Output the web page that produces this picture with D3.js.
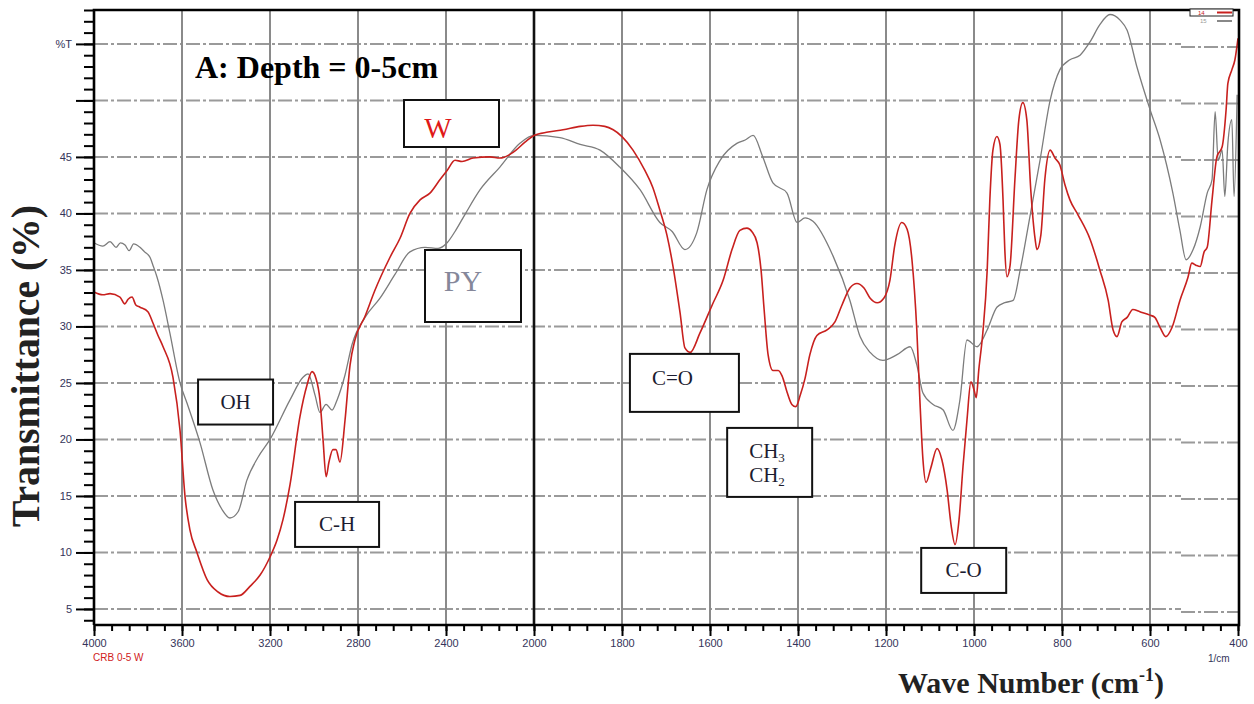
<!DOCTYPE html>
<html>
<head>
<meta charset="utf-8">
<script src="https://cdn.jsdelivr.net/npm/d3@7"></script>
<style>
  body { margin: 0; background: #fff; }
  svg { display: block; }
  .tick text { font-family: "Liberation Sans", Arial, sans-serif; font-size: 11px; fill: #34345a; }
  .axis path { stroke: #000; stroke-width: 2.5; }
  .axis line { stroke: #000; stroke-width: 2; }
  .line { fill: none; }
  .box rect { fill: #fff; stroke: #111; stroke-width: 2; }
  .box text { font-family: "Liberation Serif", "Times New Roman", serif; font-size: 21px; fill: #1c1c30; }
</style>
</head>
<body>
<div id="chart"></div>
<script>
// wave numbers of the labelled ticks (scale changes at 2000)
const xTicks = [4000, 3600, 3200, 2800, 2400, 2000, 1800, 1600, 1400, 1200, 1000, 800, 600, 400];
const yTicks = [5, 10, 15, 20, 25, 30, 35, 40, 45, 50, 55];

// PY spectrum, [wave number, %T]
const seriesPY = [
  [4000, 37.4], [3960, 37.1], [3927, 37.5], [3900, 37.0], [3880, 37.4], [3859, 37.2], [3840, 36.7],
  [3820, 37.3], [3791, 37.0], [3770, 36.6], [3745, 36.1], [3730, 35.3], [3714, 34.4], [3686, 32.3],
  [3655, 29.4], [3609, 25.0], [3577, 23.2], [3518, 19.7], [3459, 15.5], [3418, 13.8], [3382, 13.05],
  [3345, 13.6], [3305, 16.4], [3255, 18.4], [3200, 20.0], [3109, 23.5], [3050, 25.5], [3027, 25.8],
  [2995, 23.9], [2973, 22.4], [2945, 23.1], [2918, 22.6], [2895, 23.5], [2859, 25.7], [2827, 28.4],
  [2768, 30.8], [2700, 32.5], [2632, 34.6], [2564, 36.6], [2495, 37.0], [2436, 36.9], [2395, 37.4],
  [2359, 38.4], [2314, 39.9], [2245, 42.1], [2155, 44.1], [2064, 46.2], [2000, 46.9],
  [1941, 46.7], [1895, 46.1], [1850, 45.6], [1805, 44.1], [1759, 42.1], [1714, 39.2], [1686, 38.4],
  [1657, 36.8], [1630, 38.3], [1607, 42.1], [1577, 44.7], [1539, 46.2], [1520, 46.5], [1502, 46.9],
  [1480, 45.0], [1457, 42.7], [1425, 41.8], [1402, 39.2], [1384, 39.6], [1366, 39.3], [1320, 36.2],
  [1282, 32.3], [1259, 29.1], [1236, 27.7], [1207, 27.0], [1175, 27.5], [1145, 28.2], [1130, 26.6],
  [1116, 24.1], [1093, 23.1], [1070, 22.6], [1048, 20.8], [1032, 23.5], [1016, 28.8], [993, 28.2],
  [970, 29.7], [948, 31.7], [930, 32.1], [911, 32.3], [895, 35.0], [873, 39.7], [850, 44.7],
  [827, 50.0], [805, 52.7], [782, 53.6], [759, 54.0], [736, 55.2], [714, 56.7], [691, 57.6],
  [668, 57.1], [652, 56.2], [630, 53.0], [600, 49.2], [577, 46.5], [548, 41.8], [532, 38.5],
  [518, 35.9], [502, 36.8], [486, 38.8], [470, 41.8], [459, 43.0], [452, 49.0], [445, 44.7],
  [436, 45.6], [430, 41.5], [423, 46.2], [414, 48.3], [409, 41.5], [402, 50.5]
];

// W spectrum, [wave number, %T]
const seriesW = [
  [4000, 33.05], [3960, 32.8], [3927, 32.9], [3882, 32.6], [3860, 32.0], [3845, 32.4], [3827, 32.6],
  [3810, 31.9], [3791, 31.7], [3755, 31.3], [3732, 30.3], [3709, 29.2], [3686, 28.2], [3641, 25.5],
  [3609, 20.8], [3586, 14.9], [3564, 12.0], [3532, 10.0], [3486, 7.6], [3436, 6.5], [3382, 6.1],
  [3336, 6.2], [3291, 7.0], [3245, 8.0], [3200, 9.6], [3168, 11.1], [3141, 12.9], [3109, 16.0],
  [3064, 22.0], [3032, 24.8], [3009, 26.0], [2991, 25.4], [2973, 23.5], [2959, 20.0], [2945, 16.7],
  [2932, 18.0], [2914, 19.1], [2900, 19.1], [2882, 18.0], [2859, 21.7], [2836, 26.6], [2814, 28.8],
  [2768, 30.9], [2723, 33.2], [2655, 36.1], [2609, 37.8], [2564, 40.0], [2518, 41.2], [2473, 41.8],
  [2427, 43.0], [2395, 43.8], [2359, 44.7], [2327, 44.6], [2277, 44.9], [2200, 45.0], [2155, 44.9],
  [2095, 45.4], [2041, 46.3], [2000, 46.9],
  [1968, 47.2], [1934, 47.4], [1895, 47.7], [1866, 47.8], [1839, 47.7], [1820, 47.4], [1800, 46.8],
  [1775, 45.6], [1748, 43.8], [1730, 42.3], [1714, 40.3], [1698, 38.1], [1684, 35.3], [1668, 31.2],
  [1657, 28.1], [1645, 27.7], [1623, 29.4], [1595, 31.9], [1570, 34.1], [1550, 36.8], [1532, 38.5],
  [1516, 38.7], [1505, 38.4], [1493, 37.4], [1484, 35.0], [1477, 31.5], [1468, 27.5], [1457, 26.1],
  [1445, 26.1], [1436, 25.6], [1425, 24.2], [1414, 23.1], [1405, 22.9], [1395, 23.9], [1384, 25.4],
  [1373, 27.5], [1357, 29.2], [1334, 29.7], [1316, 30.4], [1300, 31.9], [1282, 33.4], [1266, 33.8],
  [1250, 33.4], [1236, 32.5], [1220, 32.1], [1205, 32.5], [1191, 34.1], [1180, 37.2], [1164, 39.2],
  [1152, 38.6], [1141, 35.9], [1130, 29.7], [1123, 23.5], [1116, 18.2], [1109, 16.2], [1098, 17.5],
  [1084, 19.2], [1073, 18.2], [1061, 15.5], [1052, 12.4], [1043, 10.7], [1034, 12.9], [1025, 17.6],
  [1016, 21.7], [1007, 25.1], [1000, 24.4], [995, 23.7], [989, 26.2], [980, 29.4], [970, 35.0],
  [964, 41.2], [957, 45.6], [948, 46.8], [941, 46.1], [934, 41.2], [930, 36.8], [925, 34.4],
  [918, 35.4], [907, 43.0], [898, 48.3], [889, 49.8], [880, 48.3], [871, 42.1], [861, 37.7],
  [857, 36.8], [848, 38.1], [839, 43.0], [827, 45.6], [816, 44.9], [805, 44.3], [793, 42.5],
  [782, 41.2], [764, 39.9], [736, 37.7], [714, 35.0], [695, 32.3], [684, 29.7], [675, 29.1],
  [664, 30.4], [652, 30.8], [639, 31.5], [623, 31.3], [600, 31.0], [589, 30.8], [577, 29.9],
  [564, 29.1], [550, 29.9], [532, 32.3], [514, 34.3], [505, 35.6], [495, 35.4], [486, 35.3],
  [477, 36.6], [470, 37.0], [459, 41.2], [448, 45.0], [436, 45.9], [427, 49.2], [423, 51.5],
  [414, 52.7], [407, 53.6], [400, 55.5]
];

// band labels: text lines, wave number / %T of the box's top-left corner
const bandLabels = [
  { lines: ["OH"], wn: 3527, t: 25.3 },
  { lines: ["C-H"], wn: 3086, t: 14.47 },
  { lines: ["C=O"], wn: 1782, t: 27.57 },
  { lines: ["CH3", "CH2"], wn: 1561, t: 21.02 },
  { lines: ["C-O"], wn: 1120, t: 10.4 }
];

class IRChart {
  constructor(args) {
    this.element = args.element;
    this.width = 1254;
    this.height = 704;
    this.plot = { left: 94, right: 1238, top: 10, bottom: 625 };
    this.draw();
  }

  draw() {
    this._svg = d3.select(this.element).append("svg")
      .attr("width", this.width)
      .attr("height", this.height);
    this.createScales();
    this.addGrid();
    this.addLine(seriesPY, "#7c7c7c", 1.3);
    this.addLine(seriesW, "#c8201e", 1.6);
    this.addBoxes();
    this.addAxes();
    this.addTexts();
  }

  createScales() {
    // FTIR style x axis: 4000-2000 and 2000-400 get the same width per tick
    this._xScale = d3.scaleLinear()
      .domain([4000, 2000, 400])
      .range([this.plot.left, 534, this.plot.right]);
    this._yScale = d3.scaleLinear()
      .domain([3.58, 58.0])
      .range([this.plot.bottom, this.plot.top]);
  }

  addGrid() {
    const g = this._svg.append("g").attr("class", "grid");
    const step = 1181; // the right strip of the grid sits a bit lower
    yTicks.forEach(v => {
      const y = this._yScale(v);
      g.append("line")
        .attr("x1", this.plot.left).attr("x2", step)
        .attr("y1", y).attr("y2", y)
        .attr("stroke", "#9a9a9a").attr("stroke-width", 2)
        .attr("stroke-dasharray", "14,3,3,3");
      g.append("line")
        .attr("x1", step).attr("x2", this.plot.right)
        .attr("y1", y + 3).attr("y2", y + 3)
        .attr("stroke", "#9a9a9a").attr("stroke-width", 2)
        .attr("stroke-dasharray", "14,3,3,3");
    });
    xTicks.filter(d => d !== 4000 && d !== 400).forEach(d => {
      g.append("line")
        .attr("x1", this._xScale(d)).attr("x2", this._xScale(d))
        .attr("y1", this.plot.top).attr("y2", this.plot.bottom)
        .attr("stroke", d === 2000 ? "#111" : "#8a8a8a")
        .attr("stroke-width", d === 2000 ? 2.6 : 2);
    });
  }

  generateLine() {
    return d3.line()
      .x(d => this._xScale(d[0]))
      .y(d => this._yScale(d[1]))
      .curve(d3.curveMonotoneX);
  }

  addLine(data, color, width) {
    this._svg.append("path")
      .datum(data)
      .attr("class", "line")
      .attr("d", this.generateLine())
      .style("stroke", color)
      .style("stroke-width", width);
  }

  addBoxes() {
    const boxW = { "OH": 75, "C-H": 84, "C=O": 109, "CH3": 85, "C-O": 85 };
    const boxH = { 1: 45, 2: 69 };
    bandLabels.forEach(b => {
      const x = this._xScale(b.wn);
      const y = this._yScale(b.t);
      const w = boxW[b.lines[0]];
      const h = b.lines[0] === "C=O" ? 58 : boxH[b.lines.length];
      const g = this._svg.append("g").attr("class", "box");
      g.append("rect").attr("x", x).attr("y", y).attr("width", w).attr("height", h);
      if (b.lines.length === 1) {
        const tx = b.lines[0] === "C=O" ? x + 22 : x + w / 2;
        g.append("text")
          .attr("x", tx).attr("y", b.lines[0] === "C=O" ? y + 31 : y + 29)
          .attr("text-anchor", b.lines[0] === "C=O" ? "start" : "middle")
          .text(b.lines[0]);
      } else {
        b.lines.forEach((s, i) => {
          const t = g.append("text").attr("x", x + 22).attr("y", y + 30 + i * 24);
          t.append("tspan").text(s.slice(0, 2));
          t.append("tspan").attr("dy", 4).attr("font-size", 13).text(s.slice(2));
        });
      }
    });

    // series name boxes
    const serif = "'Liberation Serif', 'Times New Roman', serif";
    const wBox = this._svg.append("g").attr("class", "box");
    wBox.append("rect").attr("x", 404).attr("y", 100).attr("width", 95).attr("height", 47);
    wBox.append("text").attr("x", 438).attr("y", 138).attr("text-anchor", "middle")
      .style("font-size", "29px").style("fill", "#e01818").style("font-family", serif).text("W");
    const pyBox = this._svg.append("g").attr("class", "box");
    pyBox.append("rect").attr("x", 425).attr("y", 250).attr("width", 96).attr("height", 72);
    pyBox.append("text").attr("x", 463).attr("y", 291).attr("text-anchor", "middle")
      .style("font-size", "30px").style("fill", "#85879a").style("font-family", serif).text("PY");
  }

  addAxes() {
    const xMinor = d3.range(4000, 2000, -80).concat(d3.range(2000, 399, -40));
    const yMinor = d3.range(4, 59, 1);

    // minor ticks first, major ticks on top
    this._svg.append("g")
      .attr("class", "x axis")
      .attr("transform", `translate(0,${this.plot.bottom})`)
      .call(d3.axisBottom(this._xScale).tickValues(xMinor).tickSize(6).tickFormat(""));
    this._svg.append("g")
      .attr("class", "x axis")
      .attr("transform", `translate(0,${this.plot.bottom})`)
      .call(d3.axisBottom(this._xScale).tickValues(xTicks).tickSize(11).tickPadding(3)
        .tickFormat(d3.format("d")));

    this._svg.append("g")
      .attr("class", "y axis")
      .attr("transform", `translate(${this.plot.left},0)`)
      .call(d3.axisLeft(this._yScale).tickValues(yMinor).tickSize(10).tickFormat(""));
    this._svg.append("g")
      .attr("class", "y axis")
      .attr("transform", `translate(${this.plot.left},0)`)
      .call(d3.axisLeft(this._yScale).tickValues(yTicks).tickSize(18).tickPadding(4)
        .tickFormat(d => d === 55 ? "%T" : d === 50 ? "" : d));
    this._svg.selectAll(".axis .domain").remove();

    // frame
    const p = this.plot;
    this._svg.append("path")
      .attr("d", `M${p.left},${p.bottom}V${p.top}H${p.right + 1}V${p.bottom}H${p.left}`)
      .attr("fill", "none").attr("stroke", "#000").attr("stroke-width", 2.6);

    // small legend in the top right corner
    const lg = this._svg.append("g");
    lg.append("rect").attr("x", 1190).attr("y", 9).attr("width", 43).attr("height", 7)
      .attr("fill", "#fff").attr("stroke", "#222").attr("stroke-width", 1);
    lg.append("line").attr("x1", 1217).attr("x2", 1232).attr("y1", 12.5).attr("y2", 12.5)
      .attr("stroke", "#c8201e").attr("stroke-width", 2);
    lg.append("text").attr("x", 1198).attr("y", 15).style("font-size", "6px")
      .style("fill", "#c8201e").style("font-family", "Liberation Sans").text("14");
    lg.append("line").attr("x1", 1217).attr("x2", 1232).attr("y1", 21).attr("y2", 21)
      .attr("stroke", "#888").attr("stroke-width", 2);
    lg.append("text").attr("x", 1200).attr("y", 23).style("font-size", "6px")
      .style("fill", "#999").style("font-family", "Liberation Sans").text("15");
  }

  addTexts() {
    const serif = "'Liberation Serif', 'Times New Roman', serif";
    this._svg.append("text")
      .attr("x", 195).attr("y", 78)
      .style("font-family", serif).style("font-weight", "bold").style("font-size", "32px")
      .text("A: Depth = 0-5cm");

    this._svg.append("text")
      .attr("transform", "translate(39,366) rotate(-90)")
      .attr("text-anchor", "middle")
      .attr("textLength", 322).attr("lengthAdjust", "spacingAndGlyphs")
      .style("font-family", serif).style("font-weight", "bold").style("font-size", "39px")
      .style("fill", "#222")
      .text("Transmittance (%)");

    const xt = this._svg.append("text")
      .attr("x", 898).attr("y", 693)
      .style("font-family", serif).style("font-weight", "bold").style("font-size", "30px")
      .style("fill", "#222");
    xt.append("tspan").text("Wave Number (cm");
    xt.append("tspan").attr("dy", -12).style("font-size", "18px").text("-1");
    xt.append("tspan").attr("dy", 12).text(")");

    this._svg.append("text")
      .attr("x", 93).attr("y", 661)
      .style("font-family", "Liberation Sans").style("font-size", "10px").style("fill", "#d02020")
      .text("CRB 0-5 W");
    this._svg.append("text")
      .attr("x", 1208).attr("y", 662)
      .style("font-family", "Liberation Sans").style("font-size", "10px").style("fill", "#34345a")
      .text("1/cm");
  }
}

new IRChart({ element: "#chart" });
</script>
</body>
</html>
